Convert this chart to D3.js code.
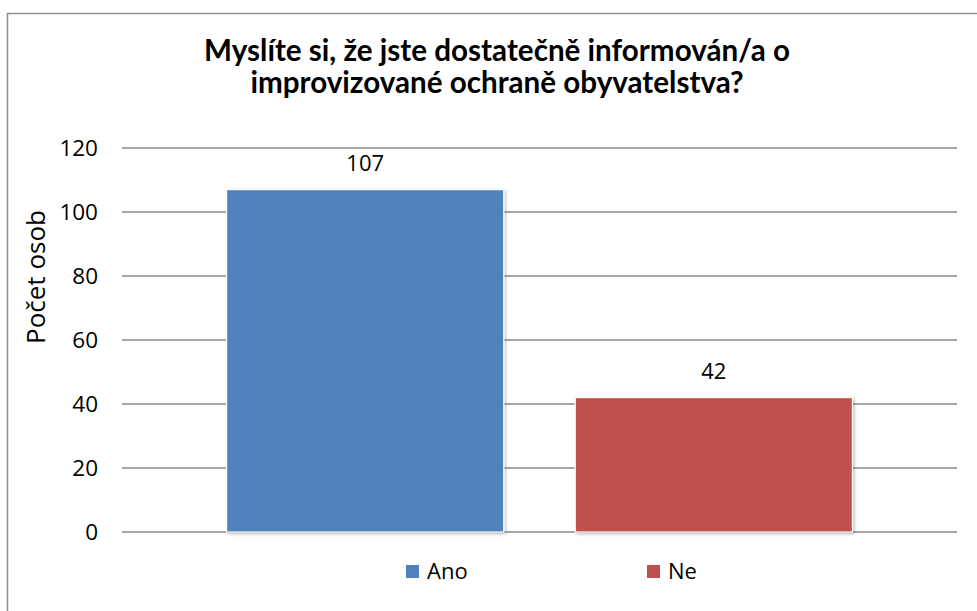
<!DOCTYPE html>
<html><head><meta charset="utf-8">
<script src="https://cdn.jsdelivr.net/npm/d3@7"></script>
<style>body{margin:0;background:#fff}svg{display:block}</style>
</head><body>
<svg id="c" width="977" height="611"></svg>
<script>
const categories = ["Ano", "Ne"];
const values = [107, 42];
const colors = ["#4f81bd", "#c0504d"];
const yTicks = [0, 20, 40, 60, 80, 100, 120];
const titleLines = ["Myslíte si, že jste dostatečně informován/a o", "improvizované ochraně obyvatelstva?"];
const yTitle = "Počet osob";

const svg = d3.select("#c");
const font = "Open Sans, Noto Sans, sans-serif";
const tfont = "Lato, Open Sans, sans-serif";

// chart frame
svg.append("rect").attr("x", 7.5).attr("y", 13.5).attr("width", 1000).attr("height", 700)
  .attr("fill", "#fff").attr("stroke", "#8f8f8f").attr("stroke-width", 1.5);

const defs = svg.append("defs");
const f = defs.append("filter").attr("id", "sh").attr("x", "-10%").attr("y", "-10%").attr("width", "120%").attr("height", "120%");
f.append("feDropShadow").attr("dx", 1.5).attr("dy", 1.5).attr("stdDeviation", 1.5).attr("flood-color", "#000").attr("flood-opacity", 0.25);

const x = d3.scaleBand().domain(categories).range([122, 957]).paddingInner(0.205).paddingOuter(0.3);
const y = d3.scaleLinear().domain([0, 120]).range([532, 148]);

// gridlines
svg.append("g").selectAll("line").data(yTicks).join("line")
  .attr("x1", 122).attr("x2", 957)
  .attr("y1", d => y(d)).attr("y2", d => y(d))
  .attr("stroke", "#8a8a8a").attr("stroke-width", 1.5);

// y axis labels
const yAxis = svg.append("g").attr("transform", "translate(108,0)")
  .call(d3.axisLeft(y).tickValues(yTicks).tickSize(0).tickPadding(10));
yAxis.select(".domain").remove();
yAxis.selectAll("text").attr("font-family", font).attr("font-size", 22.5).attr("fill", "#000").attr("dy", "0.35em");

// bars
svg.append("g").selectAll("rect").data(values).join("rect")
  .attr("x", (d, i) => x(categories[i]))
  .attr("y", d => y(d))
  .attr("width", x.bandwidth())
  .attr("height", d => y(0) - y(d))
  .attr("fill", (d, i) => colors[i])
  .attr("stroke", "#fff").attr("stroke-width", 1.2)
  .attr("filter", "url(#sh)");

// data labels
svg.append("g").selectAll("text").data(values).join("text")
  .attr("x", (d, i) => x(categories[i]) + x.bandwidth() / 2)
  .attr("y", d => y(d) - 19)
  .attr("text-anchor", "middle")
  .attr("font-family", font).attr("font-size", 22).attr("fill", "#000")
  .text(d => d);

// title
const tg = svg.append("g");
const t1 = tg.append("text").attr("x", 497).attr("y", 61).attr("text-anchor", "middle")
  .attr("font-family", tfont).attr("font-weight", "bold").attr("font-size", 26).attr("fill", "#000").text(titleLines[0]);
const w = t1.node().getComputedTextLength();
const fs = 26 * 586 / w;
t1.attr("font-size", fs);
tg.append("text").attr("x", 497).attr("y", 93).attr("text-anchor", "middle")
  .attr("font-family", tfont).attr("font-weight", "bold").attr("font-size", fs).attr("fill", "#000").text(titleLines[1]);

// y title
svg.append("text").attr("transform", "translate(45,277) rotate(-90)")
  .attr("text-anchor", "middle").attr("font-family", font).attr("font-size", 26).attr("fill", "#000")
  .text(yTitle);

// legend
const lg = svg.append("g");
const lx = [406, 647];
categories.forEach((c, i) => {
  lg.append("rect").attr("x", lx[i]).attr("y", 565).attr("width", 13).attr("height", 13).attr("fill", colors[i]);
  lg.append("text").attr("x", lx[i] + 21).attr("y", 579).attr("font-family", font).attr("font-size", 22).attr("fill", "#000").text(c);
});
</script>
</body></html>
